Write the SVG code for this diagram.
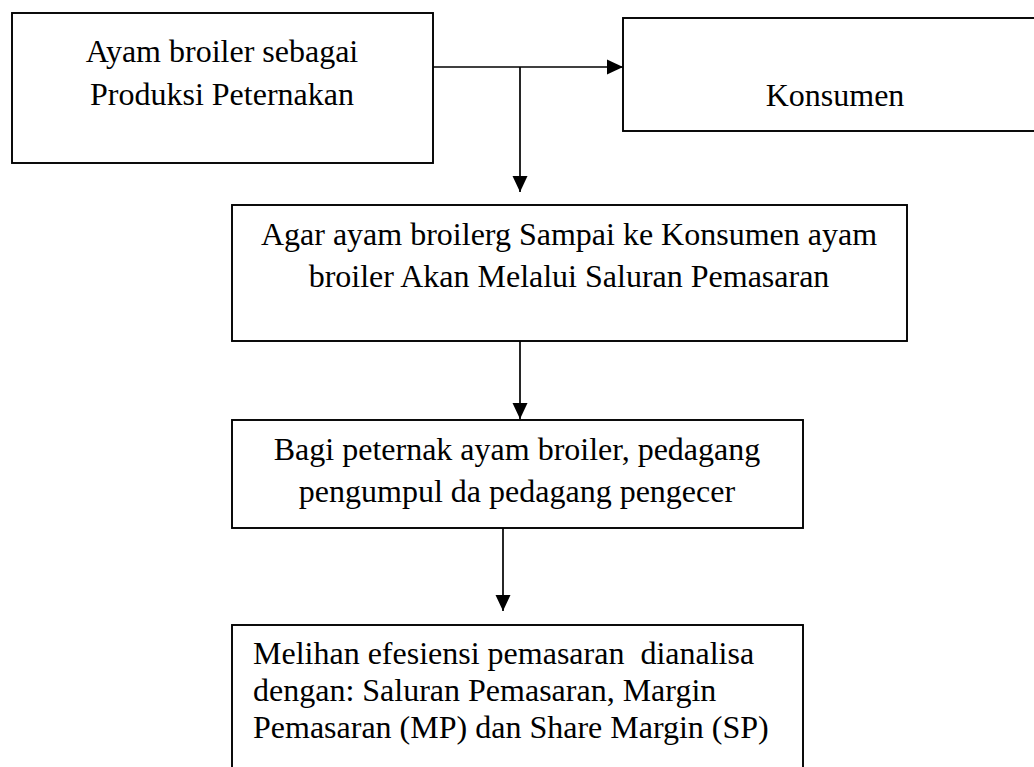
<svg xmlns="http://www.w3.org/2000/svg" width="1034" height="767" viewBox="0 0 1034 767">
<style>
.box{fill:#fff;stroke:#000;stroke-width:1.9}
.t{font-family:"Liberation Serif","Times New Roman",serif;font-size:32px;fill:#000}
.c{text-anchor:middle}
.ln{stroke:#000;stroke-width:1.7;fill:none}
</style>
<defs>
<marker id="ah" markerWidth="16" markerHeight="16" refX="16" refY="8" orient="auto" markerUnits="userSpaceOnUse">
<path d="M0,0.5 L16,8 L0,15.5 Z" fill="#000"/>
</marker>
</defs>
<rect width="1034" height="767" fill="#fff"/>
<g id="n1">
<rect class="box" x="12" y="13" width="421" height="150"/>
<text class="t c" x="222" y="62">Ayam broiler sebagai</text>
<text class="t c" x="222" y="105">Produksi Peternakan</text>
</g>
<g id="n2">
<rect class="box" x="623" y="18" width="430" height="113"/>
<text class="t c" x="835" y="106">Konsumen</text>
</g>
<g id="n3">
<rect class="box" x="232" y="205" width="675" height="136"/>
<text class="t c" x="569" y="245">Agar ayam broilerg Sampai ke Konsumen ayam</text>
<text class="t c" x="569" y="287">broiler Akan Melalui Saluran Pemasaran</text>
</g>
<g id="n4">
<rect class="box" x="232" y="420" width="571" height="108"/>
<text class="t c" x="517" y="460">Bagi peternak ayam broiler, pedagang</text>
<text class="t c" x="517" y="502">pengumpul da pedagang pengecer</text>
</g>
<g id="n5">
<rect class="box" x="232" y="625" width="571" height="160"/>
<text class="t" x="253" y="664" xml:space="preserve">Melihan efesiensi pemasaran  dianalisa</text>
<text class="t" x="253" y="701">dengan: Saluran Pemasaran, Margin</text>
<text class="t" x="253" y="738">Pemasaran (MP) dan Share Margin (SP)</text>
</g>
<g id="connectors">
<line class="ln" x1="433" y1="67" x2="623" y2="67" marker-end="url(#ah)"/>
<line class="ln" x1="520" y1="67" x2="520" y2="192" marker-end="url(#ah)"/>
<line class="ln" x1="520" y1="341" x2="520" y2="419" marker-end="url(#ah)"/>
<line class="ln" x1="503" y1="528" x2="503" y2="611" marker-end="url(#ah)"/>
</g>
</svg>
